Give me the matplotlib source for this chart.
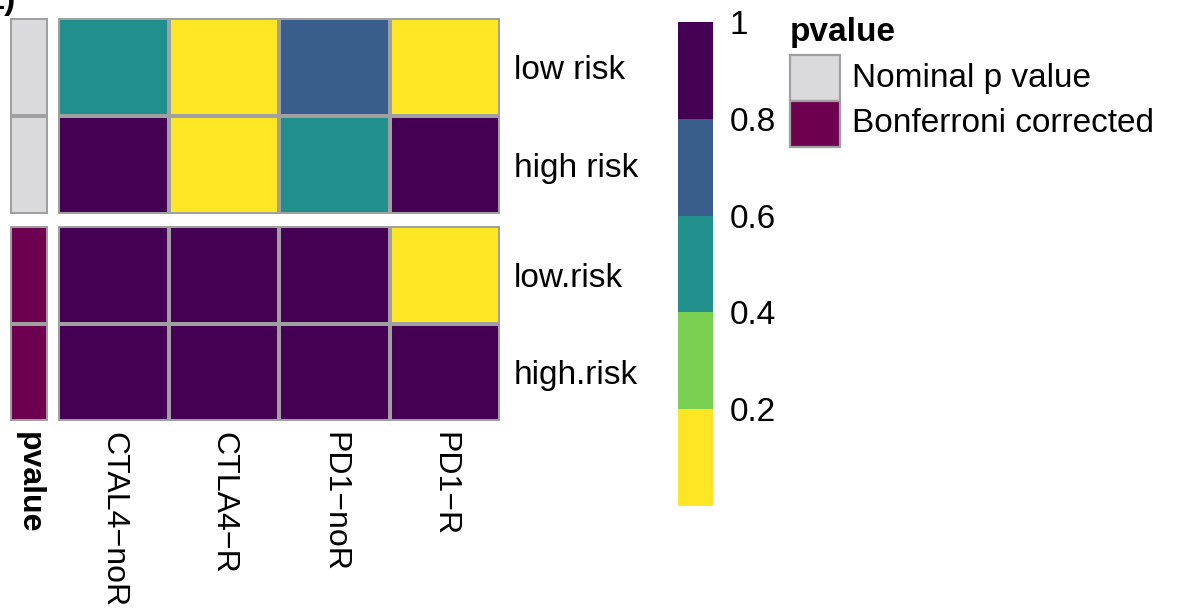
import numpy as np
import matplotlib
matplotlib.use("Agg")
import matplotlib.pyplot as plt
from matplotlib.colors import ListedColormap, BoundaryNorm
from matplotlib.patches import Rectangle
from matplotlib.cm import ScalarMappable

plt.rcParams["font.family"] = ["Liberation Sans", "DejaVu Sans"]

# data
therapies = ["CTAL4\u2212noR", "CTLA4\u2212R", "PD1\u2212noR", "PD1\u2212R"]
nominal_rows = ["low risk", "high risk"]
bonf_rows = ["low.risk", "high.risk"]
nominal_p = [[0.52, 0.03, 0.71, 0.01],
             [0.92, 0.08, 0.47, 0.88]]
bonf_p = [[1.00, 1.00, 1.00, 0.05],
          [1.00, 1.00, 1.00, 1.00]]
pv_levels = ["Nominal p value", "Bonferroni corrected"]
pv_colors = ["#DADADC", "#6E0050"]
bin_edges = [0, 0.2, 0.4, 0.6, 0.8, 1.0]
bin_colors = ["#FDE725", "#7AD151", "#21908C", "#3A5E8C", "#440154"]
cbar_ticks = [0.2, 0.4, 0.6, 0.8, 1.0]
cbar_labels = ["0.2", "0.4", "0.6", "0.8", "1"]

W, H = 1197, 609
FS = 24
FS_COL = 23
GRID = "#A0A0A0"

cmap = ListedColormap(bin_colors)
norm = BoundaryNorm(bin_edges, cmap.N)


def box(x0, y0, x1, y1):
    # pixel box (top-left origin) -> figure fraction rect
    return [x0 / W, 1 - y1 / H, (x1 - x0) / W, (y1 - y0) / H]


fig = plt.figure(figsize=(W / 100, H / 100), dpi=100)

blocks = [(nominal_p, nominal_rows, 0, 18, 214), (bonf_p, bonf_rows, 1, 226, 421)]
for vals, rows, k, y0, y1 in blocks:
    M = np.array(vals)
    ax = fig.add_axes(box(58, y0, 500, y1))
    ax.pcolormesh(M, cmap=cmap, norm=norm, edgecolors=GRID, linewidth=1.6)
    ax.set_xlim(0, M.shape[1])
    ax.set_ylim(M.shape[0], 0)
    for s in ax.spines.values():
        s.set_visible(False)
    ax.yaxis.tick_right()
    ax.set_yticks(np.arange(len(rows)) + 0.5)
    ax.set_yticklabels(rows, fontsize=FS)
    ax.tick_params(axis="y", length=0, pad=10)
    if k == 1:
        ax.set_xticks(np.arange(len(therapies)) + 0.5)
        ax.set_xticklabels(therapies, rotation=270, fontsize=FS_COL, va="top")
        ax.tick_params(axis="x", length=0, pad=8)
    else:
        ax.set_xticks([])

    # annotation column
    aa = fig.add_axes(box(10, y0, 48, y1))
    A = np.full((len(rows), 1), k)
    aa.pcolormesh(A, cmap=ListedColormap(pv_colors), vmin=-0.5, vmax=1.5,
                  edgecolors=GRID, linewidth=1.6)
    aa.set_xlim(0, 1)
    aa.set_ylim(len(rows), 0)
    aa.set_yticks([])
    for s in aa.spines.values():
        s.set_visible(False)
    if k == 1:
        aa.set_xticks([0.5])
        aa.set_xticklabels(["pvalue"], rotation=270, fontsize=FS_COL,
                           fontweight="bold", va="top")
        aa.tick_params(axis="x", length=0, pad=8)
    else:
        aa.set_xticks([])

# colour key
cax = fig.add_axes(box(678, 22, 713, 506))
cb = fig.colorbar(ScalarMappable(norm=norm, cmap=cmap), cax=cax,
                  ticks=cbar_ticks, spacing="proportional")
cb.outline.set_visible(False)
cb.set_ticklabels(cbar_labels)
cax.minorticks_off()
cax.tick_params(which="both", length=0, labelsize=FS, pad=12)

# annotation legend
fig.text(790 / W, 1 - 33 / H, "pvalue", fontsize=FS, fontweight="bold",
         va="center", ha="left")
for i, (lab, col) in enumerate(zip(pv_levels, pv_colors)):
    top = 55 + i * 46
    fig.patches.append(Rectangle((790 / W, 1 - (top + 46) / H), 50 / W, 46 / H,
                                 transform=fig.transFigure, facecolor=col,
                                 edgecolor=GRID, linewidth=1.6))
    fig.text(852 / W, 1 - (top + 23) / H, lab, fontsize=FS, va="center", ha="left")

# panel tag, cropped at the top edge
fig.text(16 / W, 1 - 9 / H, "E)", fontsize=FS, fontweight="bold",
         ha="right", va="baseline")

fig.savefig("out.png", dpi=100)
